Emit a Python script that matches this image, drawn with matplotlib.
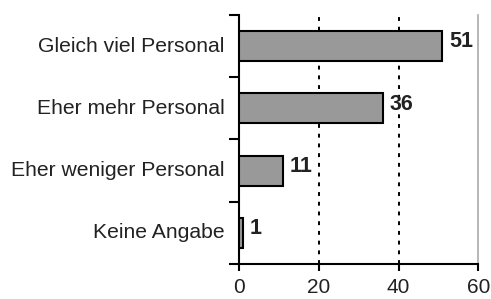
import numpy as np
import matplotlib.pyplot as plt

plt.rcParams['font.family'] = ['Liberation Sans', 'DejaVu Sans']

# Daten
categories = ['Gleich viel Personal', 'Eher mehr Personal',
              'Eher weniger Personal', 'Keine Angabe']
values = [51, 36, 11, 1]
xticks = [0, 20, 40, 60]

fig = plt.figure(figsize=(4.91, 2.99), dpi=100)
ax = fig.add_axes([0.487, 0.117, 0.487, 0.833])

y = np.arange(len(categories))
ax.barh(y, values, height=0.48, color='#999999', edgecolor='black',
        linewidth=1.5, zorder=3)

# Werte neben den Balken
for yi, v in zip(y, values):
    ax.annotate(str(v), (v, yi), xytext=(5, 3), textcoords='offset points',
                ha='left', va='center', fontsize=15.5, fontweight='bold',
                color='#222222')

# gepunktete Gitterlinien
for g in [20, 40]:
    ax.axvline(g, color='black', linestyle=(0, (2, 3)), linewidth=1.4, zorder=1)

ax.set_xlim(0, 60)
ax.set_ylim(3.5, -0.5)
ax.set_xticks(xticks)
ax.set_xticklabels([str(t) for t in xticks], fontsize=15, color='#222222')

# Kategorien als Text, Striche an den Grenzen
ax.set_yticks(np.arange(-0.5, len(categories), 1.0))
ax.set_yticklabels([])
for yi, c in zip(y, categories):
    ax.text(-3.6, yi, c, ha='right', va='center', fontsize=15.2,
            color='#222222')

ax.tick_params(axis='y', direction='out', length=7, width=1.5, color='black')
ax.tick_params(axis='x', direction='out', length=5, width=1.5,
               color='black', pad=5)

ax.spines['top'].set_visible(False)
ax.spines['right'].set_color('#aaaaaa')
ax.spines['right'].set_linewidth(1.2)
ax.spines['left'].set_linewidth(1.5)
ax.spines['bottom'].set_linewidth(1.5)

fig.savefig('out.png', dpi=100)
